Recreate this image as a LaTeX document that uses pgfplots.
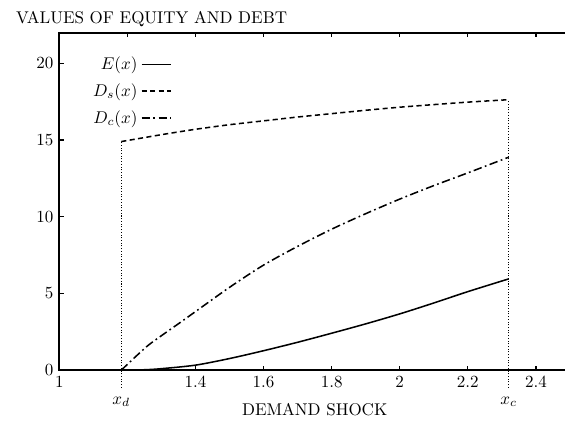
\documentclass[border=0pt]{standalone}
\usepackage{pgfplots}
\pgfplotsset{compat=1.18}

\begin{document}
\begin{tikzpicture}
\begin{axis}[
  scale only axis,
  width=300.4pt,
  height=198.6pt,
  xmin=1, xmax=2.5,
  ymin=0, ymax=22,
  clip=false,
  axis line style={line width=1.1pt},
  xtick={1,1.4,1.6,1.8,2,2.2,2.4},
  xticklabels={1,1.4,1.6,1.8,2,2.2,2.4},
  extra x ticks={1.2},
  extra x tick labels={},
  extra x tick style={xtick pos=right},
  ytick={0,5,10,15,20},
  tick style={line width=0.8pt, black},
  major tick length=2.5pt,
  title={VALUES OF EQUITY AND DEBT},
  title style={at={(0,1)}, anchor=base west, xshift=-29pt, yshift=-0.9pt},
  xlabel={DEMAND SHOCK},
  xlabel style={at={(axis description cs:0.5,0)}, anchor=center, yshift=-23.1pt},
  legend plot pos=right,
  legend cell align=right,
  legend style={draw=none, fill=none, at={(rel axis cs:0.23,0.95)}, anchor=north east, row sep=2.8pt},
]
\addplot[black, line width=0.9pt, smooth] coordinates {
  (1.182,0) (1.25,0.03) (1.3,0.1) (1.4,0.33) (1.5,0.76) (1.6,1.27) (1.7,1.82)
  (1.8,2.41) (1.9,3.02) (2.0,3.67) (2.1,4.38) (2.2,5.12) (2.32,5.95)};
\addlegendentry{$E(x)$}
\addplot[black, line width=0.9pt, dash pattern=on 3pt off 2pt, smooth] coordinates {
  (1.182,14.9) (1.3,15.35) (1.4,15.7) (1.5,16.0) (1.6,16.25) (1.7,16.5)
  (1.8,16.72) (1.9,16.94) (2.0,17.14) (2.1,17.31) (2.2,17.47) (2.32,17.63)};
\addlegendentry{$D_s(x)$}
\addplot[black, line width=0.9pt, dash pattern=on 5pt off 2pt on 1pt off 2pt, smooth] coordinates {
  (1.182,0) (1.22,0.8) (1.261,1.62) (1.3,2.25) (1.359,3.17) (1.4,3.82)
  (1.5,5.4) (1.6,6.85) (1.7,8.07) (1.8,9.19) (1.9,10.2) (2.0,11.15)
  (2.1,12.03) (2.2,12.86) (2.32,13.88)};
\addlegendentry{$D_c(x)$}
\addplot[black, line width=0.6pt, densely dotted, forget plot] coordinates {(1.182,-1.15) (1.182,14.9)};
\addplot[black, line width=0.6pt, densely dotted, forget plot] coordinates {(2.32,-1.15) (2.32,17.63)};
\node at (axis cs:1.182,0) [yshift=-18.5pt] {$x_d$};
\node at (axis cs:2.32,0) [yshift=-18.5pt] {$x_c$};
\end{axis}
\pgfresetboundingbox
\useasboundingbox ([xshift=-34.9pt,yshift=-31pt]current axis.south west)
  rectangle ([xshift=297.5pt,yshift=19.2pt]current axis.north west);
\end{tikzpicture}
\end{document}
